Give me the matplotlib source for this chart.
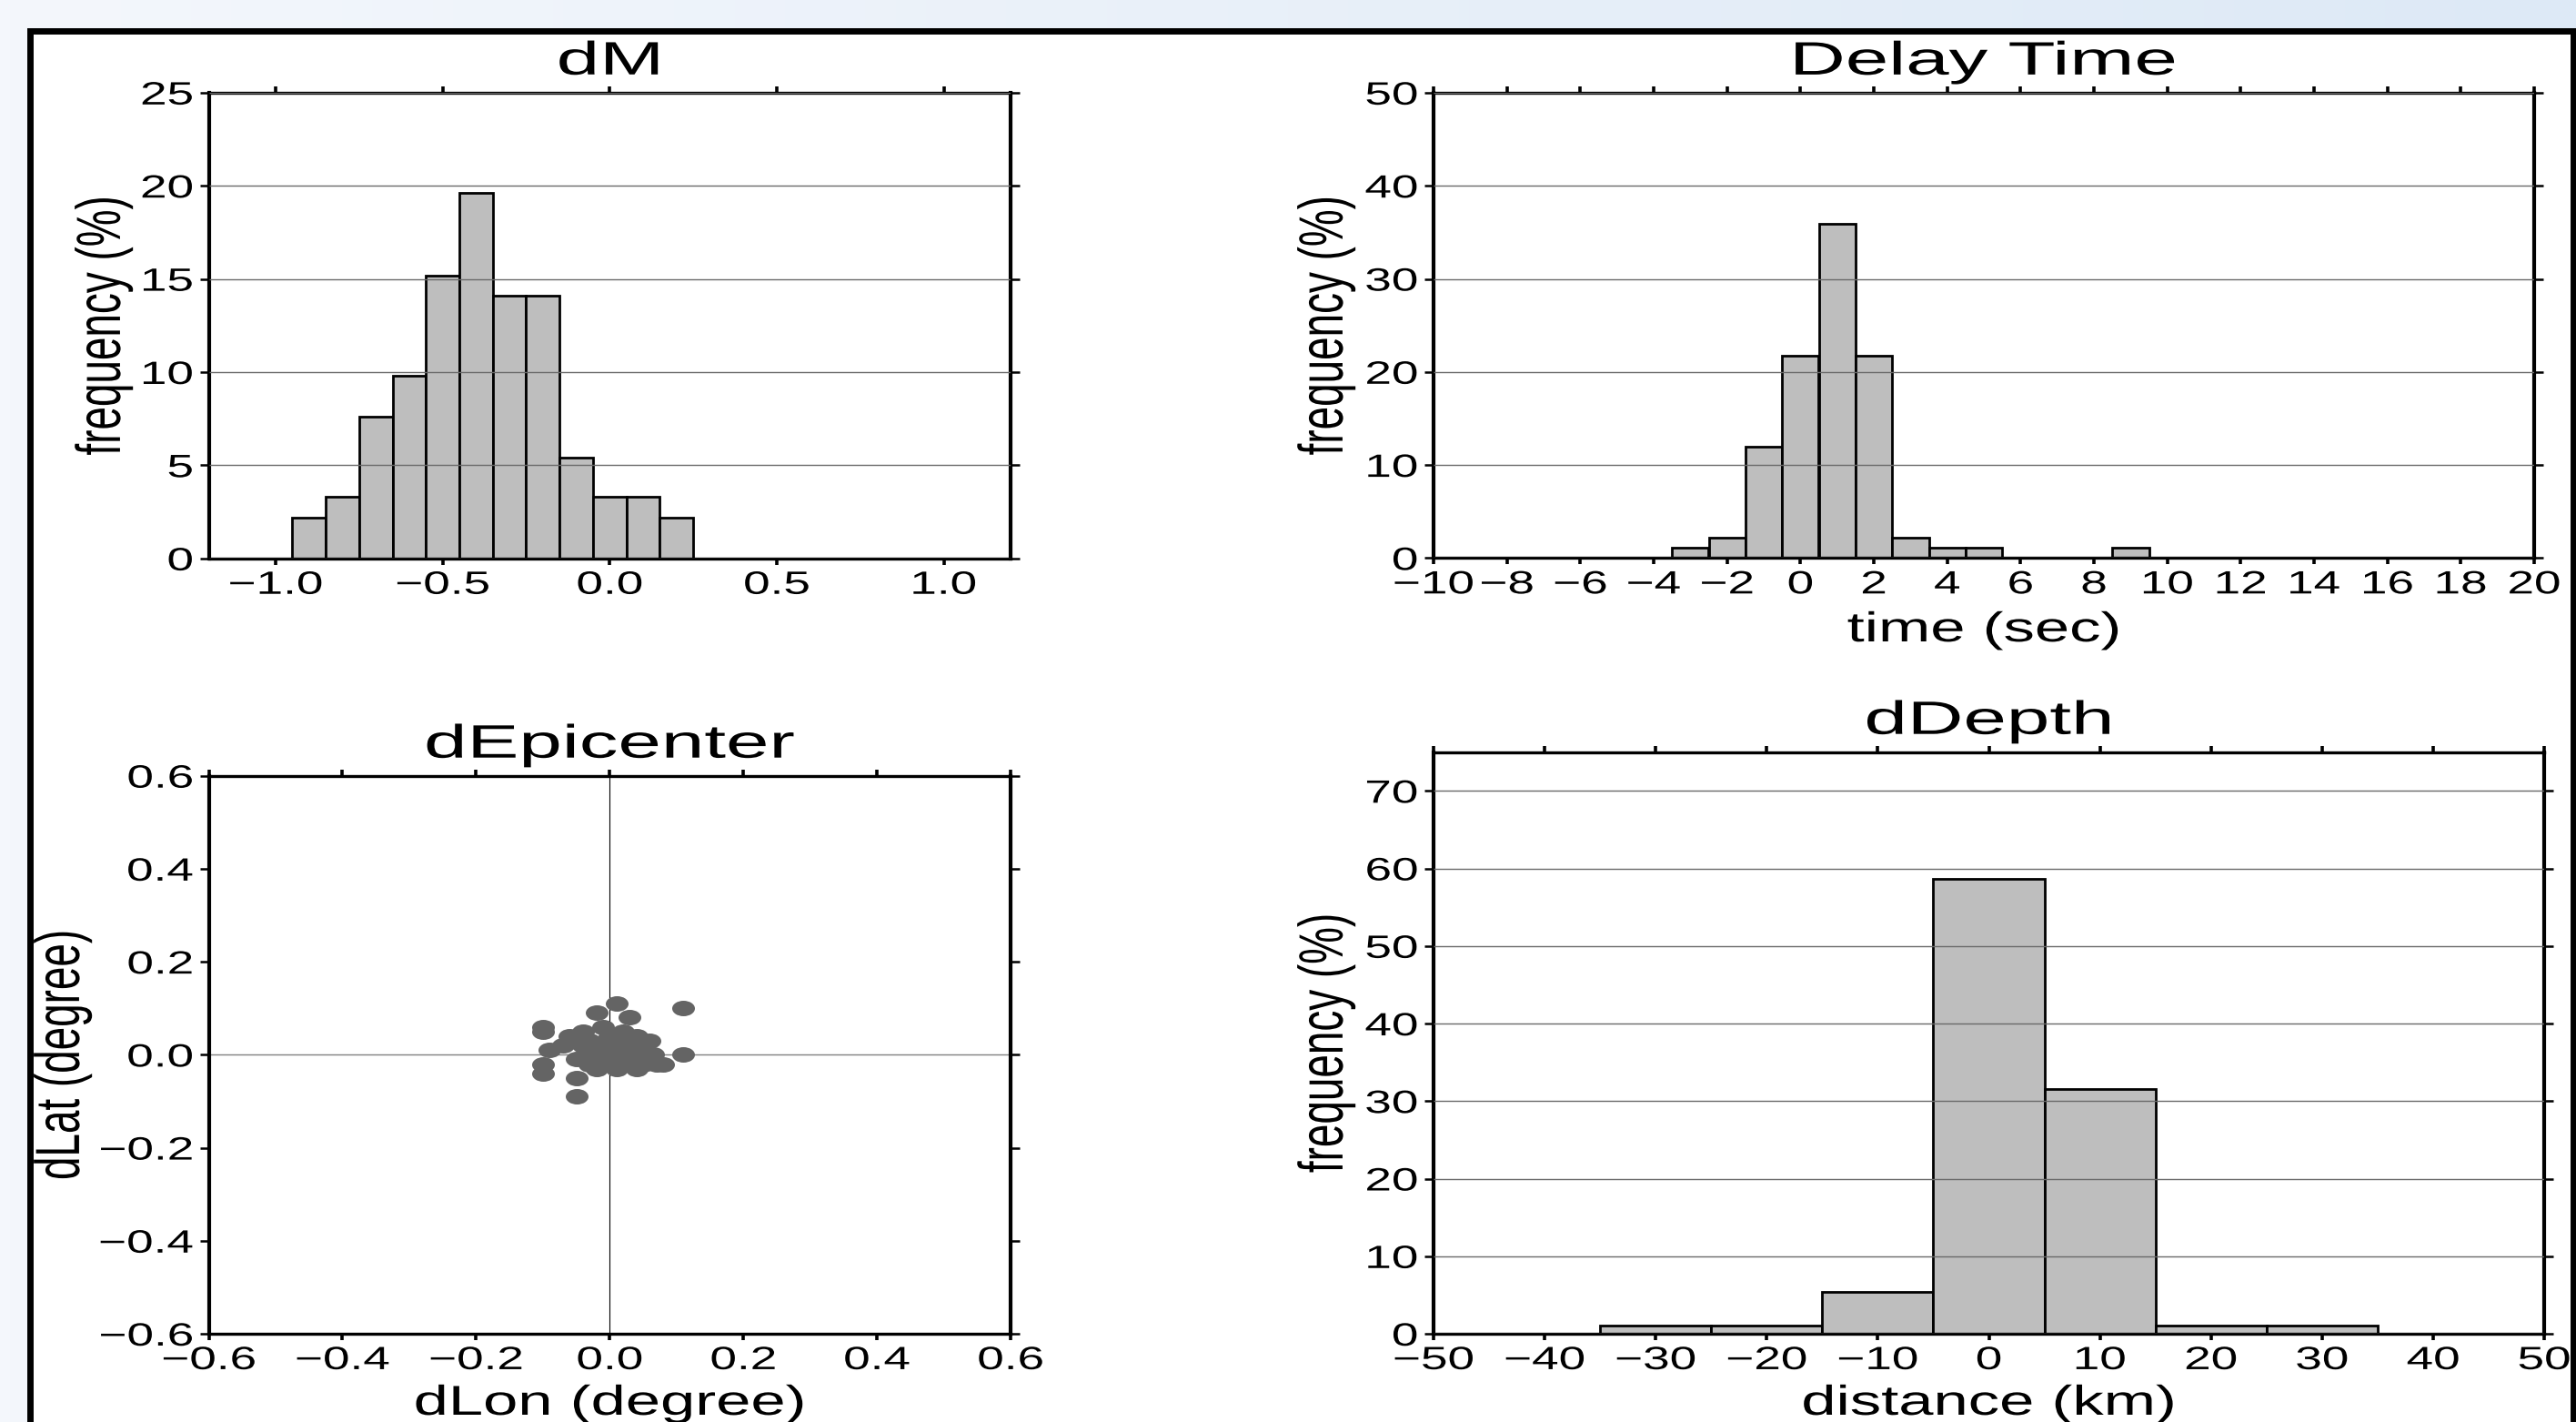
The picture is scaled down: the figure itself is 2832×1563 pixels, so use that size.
import numpy as np
import matplotlib
matplotlib.use("Agg")
import matplotlib.pyplot as plt
from matplotlib.patheffects import AbstractPathEffect
from matplotlib.transforms import Affine2D
from matplotlib.path import Path
from matplotlib.patches import Rectangle

plt.rcParams['font.family'] = ['Liberation Sans', 'DejaVu Sans']

# ---------------- data ----------------
dm_centers = [-0.9, -0.8, -0.7, -0.6, -0.5, -0.4, -0.3, -0.2, -0.1, 0.0, 0.1, 0.2]
dm_freq = [2.2, 3.3, 7.6, 9.8, 15.2, 19.6, 14.1, 14.1, 5.4, 3.3, 3.3, 2.2]

delay_centers = [-3, -2, -1, 0, 1, 2, 3, 4, 5, 9]
delay_freq = [1.1, 2.2, 12.0, 21.7, 35.9, 21.7, 2.2, 1.1, 1.1, 1.1]

depth_centers = [-30, -20, -10, 0, 10, 20, 30]
depth_freq = [1.1, 1.1, 5.4, 58.7, 31.5, 1.1, 1.1]

dlon = [0.01, 0.11, -0.02, 0.03, -0.10, -0.10, 0.11, -0.09, -0.10, -0.10,
        -0.05, -0.05, 0.06, 0.08,
        -0.04, -0.06, -0.07, -0.01, 0.02, 0.04, -0.05, -0.02, 0.01, 0.04,
        0.065, 0.07, 0.05, -0.03, 0.00, 0.03, -0.02, 0.01, 0.03, -0.01,
        0.00, -0.04, 0.05, -0.03, 0.02, 0.00, -0.05, 0.04, -0.03, 0.02]
dlat = [0.11, 0.10, 0.09, 0.08, 0.06, 0.05, 0.00, 0.01, -0.02, -0.04,
        -0.05, -0.09, 0.03, -0.02,
        0.05, 0.04, 0.02, 0.06, 0.05, 0.04, -0.01, -0.03, -0.03, -0.03,
        0.00, -0.02, -0.02, 0.03, 0.03, 0.02, 0.01, 0.01, -0.01, -0.01,
        0.04, 0.02, 0.01, -0.02, -0.02, 0.00, 0.03, 0.00, 0.00, 0.03]

dm_xticks = [-1.0, -0.5, 0.0, 0.5, 1.0]
dm_yticks = [0, 5, 10, 15, 20, 25]
delay_xticks = list(range(-10, 21, 2))
delay_yticks = [0, 10, 20, 30, 40, 50]
depth_xticks = list(range(-50, 51, 10))
depth_yticks = [0, 10, 20, 30, 40, 50, 60, 70]
epi_ticks = [-0.6, -0.4, -0.2, 0.0, 0.2, 0.4, 0.6]

# ---------------- helpers ----------------
W, H, DPI = 2832, 1563, 100


class StretchX(AbstractPathEffect):
    """Draw text stretched horizontally (the reference is horizontally stretched)."""
    def __init__(self, sx, anchor='center'):
        super().__init__()
        self.sx = sx
        self.anchor = anchor

    def draw_path(self, renderer, gc, tpath, affine, rgbFace=None):
        ext = affine.transform_path(tpath).get_extents()
        if self.anchor == 'left':
            a = ext.x0
        elif self.anchor == 'right':
            a = ext.x1
        else:
            a = 0.5 * (ext.x0 + ext.x1)
        new = affine + Affine2D().translate(-a, 0).scale(self.sx, 1.0).translate(a, 0)
        renderer.draw_path(gc, tpath, new, rgbFace)


def fx(px):
    return px / W


def fy(py):
    return 1 - py / H


def px_axes(fig, l, t, r, b):
    return fig.add_axes([fx(l), fy(b), (r - l) / W, (b - t) / H])


TICK_FS = 25.5
LABEL_FS = 33
TITLE_FS = 37
S_TICK = 1.5
S_LABEL = 1.5
S_TITLE = 1.66


def style_axes(ax, xticks, yticks, xlim, ylim, grid=True):
    ax.set_xlim(*xlim)
    ax.set_ylim(*ylim)
    ax.set_xticks(xticks)
    ax.set_yticks(yticks)
    for s in ['left', 'right']:
        ax.spines[s].set_linewidth(3.0)
    for s in ['top', 'bottom']:
        ax.spines[s].set_linewidth(2.4)
    ax.tick_params(axis='x', direction='out', length=5, width=2.6, top=True,
                   bottom=True, pad=4.3, labelsize=TICK_FS)
    ax.tick_params(axis='y', direction='out', length=7, width=1.8, left=True,
                   right=True, pad=5.5, labelsize=TICK_FS)
    if grid:
        ax.yaxis.grid(True, color='#6a6a6a', linewidth=1.0)
    ax.set_axisbelow(False)
    for lab in ax.get_xticklabels():
        lab.set_path_effects([StretchX(S_TICK, 'center')])
    for lab in ax.get_yticklabels():
        lab.set_path_effects([StretchX(S_TICK, 'right')])


def set_title(ax, text):
    t = ax.set_title(text, fontsize=TITLE_FS, pad=14.4)
    t.set_path_effects([StretchX(S_TITLE, 'center')])


def set_ylabel(fig, ax, text, px):
    ax.set_ylabel(text, fontsize=LABEL_FS)
    bb = ax.get_position()
    ax.yaxis.set_label_coords(fx(px), bb.y0 + bb.height / 2, transform=fig.transFigure)
    ax.yaxis.label.set_va('center')
    ax.yaxis.label.set_ha('center')
    ax.yaxis.label.set_path_effects([StretchX(S_LABEL, 'center')])


def set_xlabel(fig, ax, text, py):
    ax.set_xlabel(text, fontsize=LABEL_FS)
    bb = ax.get_position()
    ax.xaxis.set_label_coords(bb.x0 + bb.width / 2, fy(py), transform=fig.transFigure)
    ax.xaxis.label.set_va('center')
    ax.xaxis.label.set_ha('center')
    ax.xaxis.label.set_path_effects([StretchX(S_LABEL, 'center')])


# ---------------- figure ----------------
fig = plt.figure(figsize=(W / DPI, H / DPI), dpi=DPI)

# light blue gradient background outside the frame
bg = fig.add_axes([0, 0, 1, 1], zorder=-10)
c0 = np.array([244, 247, 252]) / 255.0
c1 = np.array([221, 233, 246]) / 255.0
tt = np.linspace(0, 1, 256)[None, :, None]
grad = c0[None, None, :] * (1 - tt) + c1[None, None, :] * tt
bg.imshow(grad, aspect='auto', extent=[0, 1, 0, 1])
bg.set_axis_off()

frame = Rectangle((fx(32.7), -0.02), fx(2829.5) - fx(32.7), fy(34) + 0.02,
                  transform=fig.transFigure, facecolor='white', edgecolor='black',
                  linewidth=5.0, zorder=-5)
fig.patches.append(frame)

bar_kw = dict(color='#bebebe', edgecolor='black', linewidth=2.0, zorder=1)

# dM
ax1 = px_axes(fig, 229.6, 101.8, 1111, 613.8)
ax1.bar(dm_centers, dm_freq, width=0.1, **bar_kw)
style_axes(ax1, dm_xticks, dm_yticks, (-1.2, 1.2), (0, 25))
set_title(ax1, 'dM')
set_ylabel(fig, ax1, 'frequency (%)', 114)

# Delay Time
ax2 = px_axes(fig, 1576, 101.9, 2786, 613.4)
ax2.bar(delay_centers, delay_freq, width=1.0, **bar_kw)
style_axes(ax2, delay_xticks, delay_yticks, (-10, 20), (0, 50))
set_title(ax2, 'Delay Time')
set_ylabel(fig, ax2, 'frequency (%)', 1458)
set_xlabel(fig, ax2, 'time (sec)', 693)

# dEpicenter
ax3 = px_axes(fig, 229.6, 852.7, 1111, 1466)
ax3.axvline(0, color='black', linewidth=0.8, zorder=1)
ax3.axhline(0, color='#808080', linewidth=1.0, zorder=1)
ell = Path(Path.unit_circle().vertices * np.array([1.0, 0.68]), Path.unit_circle().codes)
ax3.plot(dlon, dlat, linestyle='none', marker=ell, markersize=18,
         color='#646464', markeredgecolor='none', zorder=3)
style_axes(ax3, epi_ticks, epi_ticks, (-0.6, 0.6), (-0.6, 0.6), grid=False)
set_title(ax3, 'dEpicenter')
set_ylabel(fig, ax3, 'dLat (degree)', 69)
set_xlabel(fig, ax3, 'dLon (degree)', 1543)

# dDepth
ax4 = px_axes(fig, 1576, 826.7, 2797, 1466)
ax4.bar(depth_centers, depth_freq, width=10.0, **bar_kw)
style_axes(ax4, depth_xticks, depth_yticks, (-50, 50), (0, 75))
set_title(ax4, 'dDepth')
set_ylabel(fig, ax4, 'frequency (%)', 1458)
set_xlabel(fig, ax4, 'distance (km)', 1543)

fig.savefig('out.png', dpi=DPI)
